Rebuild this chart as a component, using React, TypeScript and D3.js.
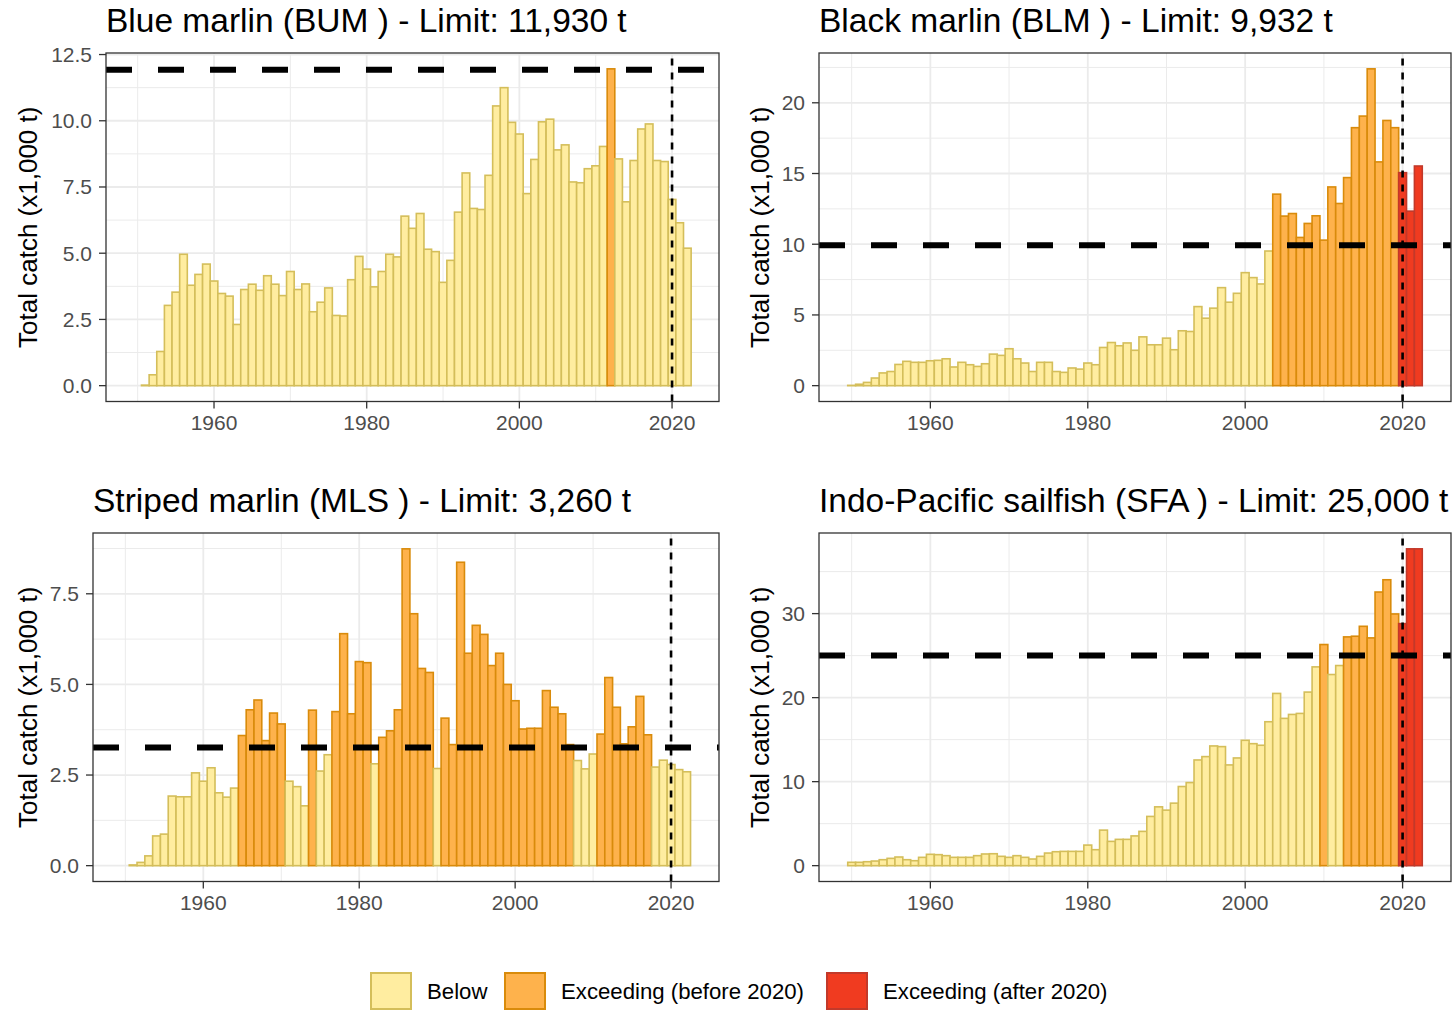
import React from "react";
import * as d3 from "d3";

// ---------- DATA ----------
const START_YEAR = 1950;
const CUTOFF_YEAR = 2020;

const bumCatch = [
  0.0, 0.02, 0.41, 1.29, 3.03, 3.53, 4.96, 3.79, 4.2, 4.59,
  3.95, 3.48, 3.38, 2.31, 3.63, 3.83, 3.6, 4.15, 3.83, 3.4,
  4.31, 3.63, 3.84, 2.79, 3.15, 3.69, 2.65, 2.63, 4.0, 4.88,
  4.4, 3.73, 4.31, 4.96, 4.86, 6.4, 5.94, 6.5, 5.15, 5.06,
  3.9, 4.73, 6.55, 8.03, 6.69, 6.65, 7.94, 10.56, 11.25, 9.94,
  9.5, 7.25, 8.54, 9.96, 10.06, 8.9, 9.09, 7.69, 7.66, 8.19,
  8.3, 9.03, 11.96, 8.56, 6.94, 8.5, 9.69, 9.88, 8.5, 8.46,
  7.03, 6.15, 5.19,
];

const blmCatch = [
  0.02, 0.1, 0.23, 0.54, 0.9, 1.0, 1.5, 1.72, 1.65, 1.65,
  1.76, 1.79, 1.9, 1.32, 1.65, 1.48, 1.36, 1.55, 2.23, 2.14,
  2.61, 1.9, 1.6, 1.0, 1.65, 1.65, 1.0, 0.94, 1.25, 1.17,
  1.6, 1.48, 2.7, 3.05, 2.82, 3.02, 2.5, 3.45, 2.89, 2.89,
  3.36, 2.54, 3.88, 3.83, 5.59, 4.77, 5.48, 6.93, 5.9, 6.53,
  7.99, 7.64, 7.19, 9.52, 13.54, 11.99, 12.17, 10.48, 11.47, 12.01,
  10.29, 14.05, 12.88, 14.71, 18.24, 19.06, 22.4, 15.82, 18.75, 18.24,
  15.06, 12.34, 15.53,
];

const mlsCatch = [
  0.0, 0.02, 0.09, 0.27, 0.82, 0.87, 1.92, 1.9, 1.9, 2.56,
  2.33, 2.7, 2.01, 1.89, 2.14, 3.59, 4.3, 4.57, 3.45, 4.21,
  3.91, 2.33, 2.18, 1.65, 4.29, 2.61, 3.06, 4.25, 6.4, 4.19,
  5.63, 5.6, 2.81, 3.54, 3.72, 4.3, 8.74, 6.95, 5.44, 5.33,
  2.68, 4.07, 3.34, 8.37, 5.86, 6.63, 6.38, 5.52, 5.86, 5.0,
  4.55, 3.77, 3.79, 3.79, 4.83, 4.37, 4.19, 3.34, 2.9, 2.67,
  3.08, 3.63, 5.19, 4.37, 3.36, 3.83, 4.67, 3.61, 2.72, 2.91,
  2.79, 2.65, 2.59,
];

const sfaCatch = [
  0.4, 0.4, 0.47, 0.55, 0.71, 0.87, 1.03, 0.71, 0.59, 0.99,
  1.35, 1.31, 1.19, 0.99, 0.99, 0.99, 1.19, 1.39, 1.42, 1.11,
  0.99, 1.19, 0.99, 0.79, 1.11, 1.5, 1.66, 1.7, 1.7, 1.7,
  2.45, 1.9, 4.23, 2.89, 3.13, 3.13, 3.54, 4.08, 5.86, 7.0,
  6.61, 7.44, 9.42, 9.89, 12.58, 12.98, 14.25, 14.17, 11.99, 12.82,
  14.92, 14.52, 14.33, 17.13, 20.5, 17.53, 18.0, 18.12, 20.66, 23.66,
  26.32, 22.75, 23.82, 27.23, 27.31, 28.49, 27.11, 32.57, 34.03, 29.96,
  28.81, 37.71, 37.71,
];

const speciesTitles = [
  "Blue marlin (BUM ) - Limit: 11,930 t",
  "Black marlin (BLM ) - Limit: 9,932 t",
  "Striped marlin (MLS ) - Limit: 3,260 t",
  "Indo-Pacific sailfish (SFA ) - Limit: 25,000 t",
];
const limits = [11.93, 9.932, 3.26, 25.0];

const bumTicks = [0, 2.5, 5, 7.5, 10, 12.5];
const blmTicks = [0, 5, 10, 15, 20];
const mlsTicks = [0, 2.5, 5, 7.5];
const sfaTicks = [0, 10, 20, 30];
const tickDecimals = [1, 0, 1, 0];

const xTicks = [1960, 1980, 2000, 2020];
const xMinorTicks = [1950, 1970, 1990, 2010];

const categories = ["Below", "Exceeding (before 2020)", "Exceeding (after 2020)"];
const fillColors = ["#FFEDA0", "#FEB24C", "#F03B20"];
const strokeColors = ["#D4BE5A", "#D98B0B", "#C2392A"];

const yAxisTitle = "Total catch (x1,000 t)";

// ---------- LAYOUT ----------
const W = 1452;
const H = 1011;
const FONT = "'Liberation Sans', Arial, Helvetica, sans-serif";

const boxes = [
  { x0: 106, x1: 719, y0: 53, y1: 401.5, axisX: 28 },
  { x0: 819, x1: 1451, y0: 53, y1: 401.5, axisX: 760 },
  { x0: 93, x1: 719, y0: 533, y1: 881.5, axisX: 28 },
  { x0: 819, x1: 1451, y0: 533, y1: 881.5, axisX: 760 },
];

const seriesList = [bumCatch, blmCatch, mlsCatch, sfaCatch];
const tickList = [bumTicks, blmTicks, mlsTicks, sfaTicks];

function categoryOf(year: number, v: number, limit: number) {
  if (v <= limit) return 0;
  return year < CUTOFF_YEAR ? 1 : 2;
}

function Panel({ idx }: { idx: number }) {
  const box = boxes[idx];
  const values = seriesList[idx];
  const limit = limits[idx];
  const ticks = tickList[idx];
  const years = values.map((_, i) => START_YEAR + i);

  const xMinD = START_YEAR - 0.5;
  const xMaxD = START_YEAR + values.length - 0.5;
  const xPad = (xMaxD - xMinD) * 0.05;
  const x = d3.scaleLinear().domain([xMinD - xPad, xMaxD + xPad]).range([box.x0, box.x1]);

  const yMax = Math.max(d3.max(values) as number, limit);
  const yPad = yMax * 0.05;
  const y = d3.scaleLinear().domain([-yPad, yMax + yPad]).range([box.y1, box.y0]);

  const minorY = ticks.slice(0, -1).map((t, i) => (t + ticks[i + 1]) / 2);
  const step = ticks[1] - ticks[0];
  const lastMinor = ticks[ticks.length - 1] + step / 2;
  if (lastMinor <= yMax + yPad) minorY.push(lastMinor);

  const fmt = d3.format(`.${tickDecimals[idx]}f`);
  const grid = "#EBEBEB";
  const ink = "#333333";

  return (
    <g>
      <text x={box.x0} y={box.y0 - 21} fontSize={33.5} fill="#000" fontFamily={FONT}>
        {speciesTitles[idx]}
      </text>
      <rect x={box.x0} y={box.y0} width={box.x1 - box.x0} height={box.y1 - box.y0} fill="#fff" />
      {minorY.map((t) => (
        <line key={"my" + t} x1={box.x0} x2={box.x1} y1={y(t)} y2={y(t)} stroke={grid} strokeWidth={1} />
      ))}
      {xMinorTicks.map((t) => (
        <line key={"mx" + t} x1={x(t)} x2={x(t)} y1={box.y0} y2={box.y1} stroke={grid} strokeWidth={1} />
      ))}
      {ticks.map((t) => (
        <line key={"gy" + t} x1={box.x0} x2={box.x1} y1={y(t)} y2={y(t)} stroke={grid} strokeWidth={1.8} />
      ))}
      {xTicks.map((t) => (
        <line key={"gx" + t} x1={x(t)} x2={x(t)} y1={box.y0} y2={box.y1} stroke={grid} strokeWidth={1.8} />
      ))}
      {values.map((v, i) => {
        const yr = years[i];
        const c = categoryOf(yr, v, limit);
        const top = y(v);
        const base = y(0);
        return (
          <rect
            key={yr}
            x={x(yr - 0.5)}
            y={top}
            width={x(yr + 0.5) - x(yr - 0.5)}
            height={Math.max(0, base - top)}
            fill={fillColors[c]}
            stroke={strokeColors[c]}
            strokeWidth={1.6}
          />
        );
      })}
      <line
        x1={box.x0}
        x2={box.x1}
        y1={y(limit)}
        y2={y(limit)}
        stroke="#000"
        strokeWidth={6}
        strokeDasharray="26 26"
      />
      <line
        x1={x(CUTOFF_YEAR)}
        x2={x(CUTOFF_YEAR)}
        y1={box.y1}
        y2={box.y0}
        stroke="#000"
        strokeWidth={2.6}
        strokeDasharray="7 7"
      />
      <rect
        x={box.x0}
        y={box.y0}
        width={box.x1 - box.x0}
        height={box.y1 - box.y0}
        fill="none"
        stroke={ink}
        strokeWidth={1.3}
      />
      {ticks.map((t) => (
        <g key={"ty" + t}>
          <line x1={box.x0 - 7} x2={box.x0} y1={y(t)} y2={y(t)} stroke={ink} strokeWidth={1.3} />
          <text
            x={box.x0 - 14}
            y={y(t)}
            dy="0.35em"
            textAnchor="end"
            fontSize={21}
            fill="#4D4D4D"
            fontFamily={FONT}
          >
            {fmt(t)}
          </text>
        </g>
      ))}
      {xTicks.map((t) => (
        <g key={"tx" + t}>
          <line x1={x(t)} x2={x(t)} y1={box.y1} y2={box.y1 + 7} stroke={ink} strokeWidth={1.3} />
          <text
            x={x(t)}
            y={box.y1 + 28}
            textAnchor="middle"
            fontSize={21}
            fill="#4D4D4D"
            fontFamily={FONT}
          >
            {t}
          </text>
        </g>
      ))}
      <text
        transform={`translate(${box.axisX},${(box.y0 + box.y1) / 2}) rotate(-90)`}
        textAnchor="middle"
        dy="0.35em"
        fontSize={26}
        fill="#000"
        fontFamily={FONT}
      >
        {yAxisTitle}
      </text>
    </g>
  );
}

const legendKeyX = [370, 504, 826];

function Legend() {
  return (
    <g>
      {categories.map((c, i) => (
        <g key={c}>
          <rect
            x={legendKeyX[i] + 1}
            y={973}
            width={40}
            height={36}
            fill={fillColors[i]}
            stroke={strokeColors[i]}
            strokeWidth={2}
          />
          <text
            x={legendKeyX[i] + 57}
            y={991}
            dy="0.35em"
            fontSize={22.2}
            fill="#000"
            fontFamily={FONT}
          >
            {c}
          </text>
        </g>
      ))}
    </g>
  );
}

export default function App() {
  return (
    <svg
      width={W}
      height={H}
      viewBox={`0 0 ${W} ${H}`}
      style={{ position: "absolute", left: 0, top: 0, background: "#fff" }}
    >
      <rect x={0} y={0} width={W} height={H} fill="#fff" />
      {boxes.map((_, i) => (
        <Panel key={i} idx={i} />
      ))}
      <Legend />
    </svg>
  );
}
